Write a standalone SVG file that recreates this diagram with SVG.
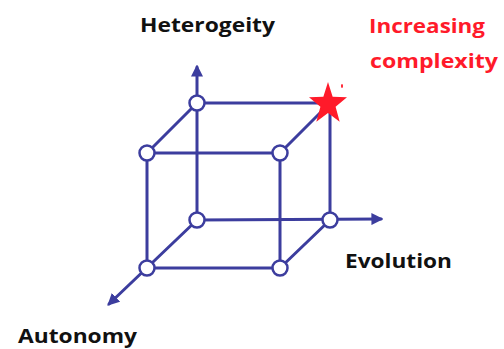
<svg xmlns="http://www.w3.org/2000/svg" width="504" height="349" viewBox="0 0 504 349">
<style>
.e{stroke:#3c3d9e;stroke-width:3;fill:none;stroke-linecap:round}
.n{fill:#fff;stroke:#3c3d9e;stroke-width:2.5}
.t{font-family:"Open Sans","Liberation Sans",sans-serif;font-weight:bold;font-size:19px;fill:#111}
.r{fill:#ff1a2a}
</style>
<defs>
<marker id="ah" viewBox="0 0 10 10" refX="8" refY="5" markerWidth="4" markerHeight="4" orient="auto" markerUnits="strokeWidth">
<path d="M0,0 L10,5 L0,10 z" fill="#3c3d9e"/>
</marker>
</defs>
<rect width="504" height="349" fill="#fff"/>
<g id="connectors">
<line class="e" x1="197" y1="220" x2="197" y2="67" marker-end="url(#ah)"/>
<line class="e" x1="197" y1="220" x2="381" y2="219" marker-end="url(#ah)"/>
<line class="e" x1="197" y1="220" x2="109" y2="304" marker-end="url(#ah)"/>
<line class="e" x1="197" y1="103" x2="328" y2="103"/>
<line class="e" x1="330" y1="103" x2="330" y2="220"/>
<line class="e" x1="147" y1="153" x2="280" y2="153"/>
<line class="e" x1="147" y1="268" x2="280" y2="268"/>
<line class="e" x1="147" y1="153" x2="147" y2="268"/>
<line class="e" x1="280" y1="153" x2="280" y2="268"/>
<line class="e" x1="147" y1="153" x2="197" y2="103"/>
<line class="e" x1="280" y1="153" x2="330" y2="103"/>
<line class="e" x1="280" y1="268" x2="330" y2="220"/>
</g>
<g id="n-back-top-left"><circle class="n" cx="197" cy="103" r="7.5"/></g>
<g id="n-front-top-left"><circle class="n" cx="147" cy="153" r="7.5"/></g>
<g id="n-front-top-right"><circle class="n" cx="280" cy="153" r="7.5"/></g>
<g id="n-back-bottom-left"><circle class="n" cx="197" cy="220" r="7.5"/></g>
<g id="n-back-bottom-right"><circle class="n" cx="330" cy="220" r="7.5"/></g>
<g id="n-front-bottom-left"><circle class="n" cx="147" cy="268" r="7.5"/></g>
<g id="n-front-bottom-right"><circle class="n" cx="280" cy="268" r="7.5"/></g>
<g id="n-star">
<polygon class="r" transform="translate(328,104) scale(0.95,1.05)" points="0,-21 4.9,-6.8 20,-6.5 8,2.6 12.3,17 0,8.5 -12.3,17 -8,2.6 -20,-6.5 -4.9,-6.8"/>
<ellipse class="r" cx="342" cy="86" rx="1" ry="2"/>
</g>
<g id="labels">
<text class="t" x="140" y="32" textLength="135" lengthAdjust="spacingAndGlyphs">Heterogeity</text>
<text class="t" x="345" y="268" textLength="107" lengthAdjust="spacingAndGlyphs">Evolution</text>
<text class="t" x="18" y="343" textLength="119" lengthAdjust="spacingAndGlyphs">Autonomy</text>
<text class="t r" x="369" y="33" textLength="116" lengthAdjust="spacingAndGlyphs">Increasing</text>
<text class="t r" x="370" y="68" textLength="128" lengthAdjust="spacingAndGlyphs">complexity</text>
</g>
</svg>
